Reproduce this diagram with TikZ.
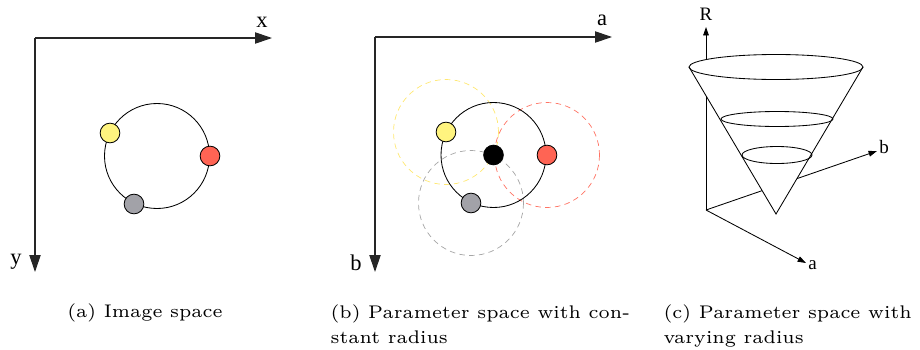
\documentclass[tikz,border=0pt]{standalone}
\usepackage{fontspec}
\usetikzlibrary{arrows.meta}
\newfontfamily\axisfont{Liberation Serif}
\newcommand{\capfont}{\fontsize{6}{8.2}\selectfont}
\definecolor{dotyellow}{HTML}{FFF47F}
\definecolor{dotred}{HTML}{FF6454}
\definecolor{dotgray}{HTML}{A2A2A8}
\tikzset{
  axis/.style={-{Triangle[length=12pt,width=8pt]}, line width=0.8pt, black!85},
  smallaxis/.style={-{Triangle[length=6pt,width=4pt]}, line width=0.6pt},
  dot/.style={circle, draw, line width=0.6pt, minimum size=14pt, inner sep=0pt},
  houghcircle/.style={line width=0.6pt},
  votecircle/.style={dash pattern=on 4pt off 3pt, line width=0.5pt},
  axislabel/.style={font=\axisfont\fontsize{16}{16}\selectfont, inner sep=0pt},
  smalllabel/.style={font=\axisfont\fontsize{13.5}{13.5}\selectfont, inner sep=0pt},
  caption/.style={font=\capfont, scale=2.17, transform shape, inner sep=0pt, align=left}
}
\begin{document}
\begin{tikzpicture}[x=0.025cm, y=-0.025cm]
  \useasboundingbox (0,0) rectangle (920,349);
  % (a) image space
  \coordinate (oa) at (35,38);
  \coordinate (xa) at (272,38);
  \coordinate (ya) at (35,272);
  \draw[axis] (oa) -- (xa);
  \draw[axis] (oa) -- (ya);
  \node[axislabel] (xlab) at (262,22) {x};
  \node[axislabel] (ylab) at (16,262) {y};
  \draw[houghcircle] (157,156) circle[radius=52.5];
  \node[dot, fill=dotyellow] (pya) at (110,133) {};
  \node[dot, fill=dotred] (pra) at (210,156) {};
  \node[dot, fill=dotgray] (pga) at (134,204) {};
  \node[caption] (capa) at (145,313) {(a) Image space};
  % (b) parameter space, constant radius
  \coordinate (ob) at (375,37);
  \coordinate (ab) at (612,37);
  \coordinate (bb) at (375,272);
  \draw[axis] (ob) -- (ab);
  \draw[axis] (ob) -- (bb);
  \node[axislabel] (alab) at (602,20) {a};
  \node[axislabel] (blab) at (356,263) {b};
  \draw[votecircle, dotyellow!90!orange] (446,132) circle[radius=52.5];
  \draw[votecircle, dotred!90] (547,155) circle[radius=52.5];
  \draw[votecircle, black!35] (471,203) circle[radius=52.5];
  \draw[houghcircle] (493.5,155) circle[radius=52.5];
  \node[dot, fill=dotyellow] (pyb) at (446,132) {};
  \node[dot, fill=dotred] (prb) at (547,155) {};
  \node[dot, fill=dotgray] (pgb) at (471,203) {};
  \node[dot, fill=black] (cb) at (493.5,155) {};
  \node[caption, anchor=north west] (capb) at (330,304) {(b) Parameter space with con-\\stant radius};
  % (c) parameter space, varying radius
  \coordinate (oc) at (706,210);
  \coordinate (rc) at (706,27);
  \coordinate (ac) at (806,263);
  \coordinate (bc) at (877,151);
  \coordinate (apex) at (776,214);
  \draw[smallaxis] (oc) -- (rc);
  \draw[smallaxis] (oc) -- (ac);
  \draw[smallaxis] (oc) -- (bc);
  \fill[white] (689,67) -- (apex) -- (863,67) -- cycle;
  \filldraw[fill=white, line width=0.6pt] (776,67) ellipse[x radius=87, y radius=12.5];
  \draw[line width=0.6pt] (689,67) -- (apex) -- (863,67);
  \draw[line width=0.6pt] (777,119) ellipse[x radius=56, y radius=7.5];
  \draw[line width=0.6pt] (777,155) ellipse[x radius=35, y radius=8.5];
  \node[smalllabel] (rlab) at (706,14) {R};
  \node[smalllabel, anchor=west] (alabc) at (808,265) {a};
  \node[smalllabel, anchor=west] (blabc) at (879,147) {b};
  \node[caption, anchor=north west] (capc) at (663,304) {(c) Parameter space with\\varying radius};
\end{tikzpicture}
\end{document}
